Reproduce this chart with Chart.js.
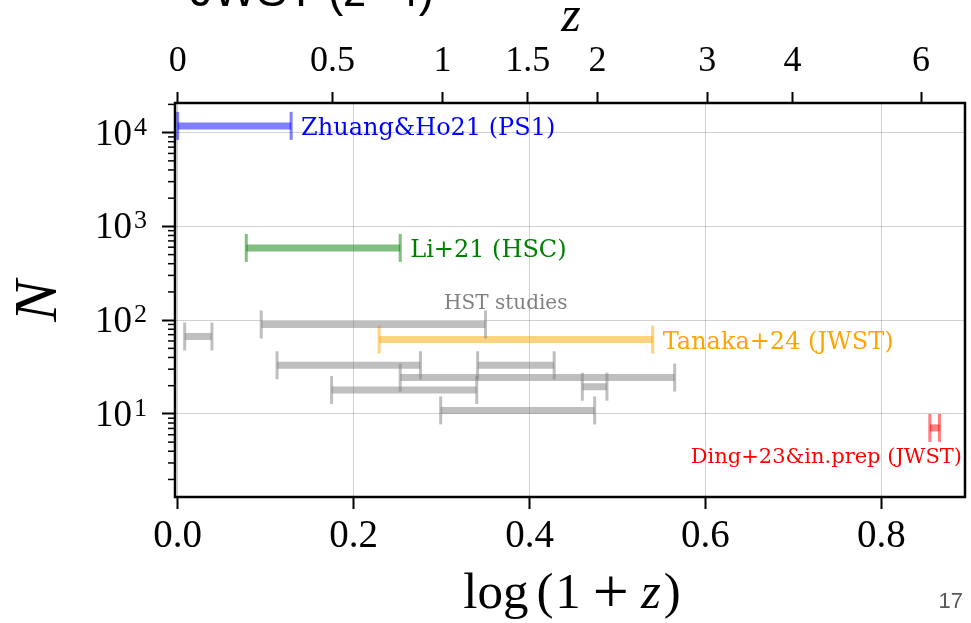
<!DOCTYPE html>
<html>
<head>
<meta charset="utf-8">
<script src="https://cdn.jsdelivr.net/npm/chart.js@4/dist/chart.umd.min.js"></script>
<style>
    html, body { margin: 0; padding: 0; background: #fff; overflow: hidden; }
    #wrap { width: 971px; height: 623px; position: relative; overflow: hidden; }
    #wrap canvas { display: block; }
</style>
</head>
<body>
<div id="wrap"><canvas id="sample-size"></canvas></div>
<script>
// surveys with their own label
const surveyNames = ['Zhuang&Ho21 (PS1)', 'Li+21 (HSC)', 'Tanaka+24 (JWST)', 'Ding+23&in.prep (JWST)'];
const surveyLow   = [0.000, 0.078, 0.229, 0.855];
const surveyHigh  = [0.129, 0.253, 0.540, 0.866];
const surveyN     = [11800, 590, 62, 7.1];

// HST studies (grey)
const hstLow  = [0.008, 0.095, 0.113, 0.341, 0.253, 0.460, 0.175, 0.299];
const hstHigh = [0.039, 0.350, 0.276, 0.428, 0.565, 0.488, 0.340, 0.474];
const hstN    = [67, 90, 33, 33, 24.4, 19.5, 18, 10.9];

// tick labels
const bottomTicks = [0.0, 0.2, 0.4, 0.6, 0.8];
const topTickZ    = [0, 0.5, 1, 1.5, 2, 3, 4, 6];
const yMajorTicks = [10, 100, 1000, 10000];

const colors = {
    'blue'  : 'rgba(0, 0, 255, 0.5)',
    'green' : 'rgba(0, 128, 0, 0.5)',
    'orange': 'rgba(255, 165, 0, 0.5)',
    'red'   : 'rgba(255, 0, 0, 0.5)',
    'grey'  : 'rgba(128, 128, 128, 0.5)'
};
const surveyColors = [colors['blue'], colors['green'], colors['orange'], colors['red']];
const surveyText   = ['#0000ff', '#008000', '#ffa500', '#ff0000'];

const SERIF = "'Liberation Serif', 'DejaVu Serif', serif";
const DVSERIF = "'DejaVu Serif', serif";

function errBar(lo, hi, n, color)
{
    return {
        data: [{x: lo, y: n}, {x: hi, y: n}],
        showLine        : true,
        borderColor     : color,
        borderWidth     : 7,
        pointStyle      : 'line',
        rotation        : 90,
        pointRadius     : 14,
        pointHoverRadius: 14,
        pointBorderWidth: 3,
        pointBorderColor: color,
        clip            : false
    };
}

let datasets = [];
for (let i = 0; i < hstN.length; i++) {
    datasets.push(errBar(hstLow[i], hstHigh[i], hstN[i], colors['grey']));
}
for (let i = 0; i < surveyN.length; i++) {
    datasets.push(errBar(surveyLow[i], surveyHigh[i], surveyN[i], surveyColors[i]));
}

function noPad(scale)
{
    scale.paddingLeft = 0;
    scale.paddingRight = 0;
    scale.paddingTop = 0;
    scale.paddingBottom = 0;
}

const overlay = {
    id: 'overlay',
    afterDraw(chart) {
        const {ctx, chartArea: a, scales} = chart;
        const x = scales.x, y = scales.y;
        ctx.save();

        // minor log ticks
        ctx.strokeStyle = '#000';
        ctx.lineWidth = 1.5;
        for (let e = 0; e < 5; e++) {
            for (let k = 2; k < 10; k++) {
                const v = k * Math.pow(10, e);
                if (v < y.min || v > y.max) continue;
                const py = y.getPixelForValue(v);
                ctx.beginPath();
                ctx.moveTo(a.left - 7, py);
                ctx.lineTo(a.left, py);
                ctx.stroke();
            }
        }

        // frame
        ctx.lineWidth = 2.5;
        ctx.strokeRect(a.left, a.top, a.right - a.left, a.bottom - a.top);

        // y tick labels 10^n
        ctx.fillStyle = '#000';
        ctx.textBaseline = 'alphabetic';
        ctx.textAlign = 'left';
        yMajorTicks.forEach(function (v) {
            const py = y.getPixelForValue(v);
            const exp = String(Math.round(Math.log10(v)));
            ctx.font = '37px ' + SERIF;
            const wBase = ctx.measureText('10').width;
            ctx.font = '26px ' + SERIF;
            const wExp = ctx.measureText(exp).width;
            const x0 = a.left - 28 - wBase - wExp - 2;
            ctx.font = '37px ' + SERIF;
            ctx.fillText('10', x0, py + 12);
            ctx.font = '26px ' + SERIF;
            ctx.fillText(exp, x0 + wBase + 2, py + 2);
        });

        // survey labels
        for (let i = 0; i < surveyNames.length; i++) {
            ctx.fillStyle = surveyText[i];
            const py = y.getPixelForValue(surveyN[i]);
            if (i === 3) {
                ctx.font = '21px ' + DVSERIF;
                ctx.textAlign = 'right';
                ctx.fillText(surveyNames[i], a.right - 3, py + 35);
            } else {
                ctx.font = '24px ' + DVSERIF;
                ctx.textAlign = 'left';
                ctx.fillText(surveyNames[i], x.getPixelForValue(surveyHigh[i]) + 10, py + 9);
            }
        }
        ctx.fillStyle = '#808080';
        ctx.font = '20px ' + DVSERIF;
        ctx.textAlign = 'center';
        ctx.fillText('HST studies', x.getPixelForValue(0.373), y.getPixelForValue(90) - 15);

        // axis titles
        ctx.fillStyle = '#000';
        ctx.font = 'italic 50px ' + SERIF;
        ctx.textAlign = 'center';
        ctx.fillText('z', 571, 31);

        ctx.save();
        ctx.translate(56, 301);
        ctx.rotate(-Math.PI / 2);
        ctx.font = 'italic 62px ' + SERIF;
        ctx.fillText('N', 0, 0);
        ctx.restore();

        // log(1+z), pieces: text, font, gap after, baseline
        const parts = [
            ['log', '51px ', 8, 608],
            ['(', '51px ', 2, 608],
            ['1', '51px ', 12, 608],
            ['+', '64px ', 12, 613],
            ['z', 'italic 51px ', 3, 608],
            [')', '51px ', 0, 608]
        ];
        let total = 0;
        parts.forEach(function (p) {
            ctx.font = p[1] + SERIF;
            total += ctx.measureText(p[0]).width + p[2];
        });
        let cx = 572 - total / 2;
        ctx.textAlign = 'left';
        parts.forEach(function (p) {
            ctx.font = p[1] + SERIF;
            ctx.fillText(p[0], cx, p[3]);
            cx += ctx.measureText(p[0]).width + p[2];
        });

        // slide leftovers
        ctx.fillStyle = '#595959';
        ctx.font = "22px 'Liberation Sans', sans-serif";
        ctx.textAlign = 'right';
        ctx.fillText('17', 963, 608);
        ctx.fillStyle = '#000';
        ctx.font = "46px 'Liberation Sans', sans-serif";
        ctx.textAlign = 'left';
        ctx.fillText('JWST (z~4)', 190, 6);

        ctx.restore();
    }
};

const ctxEl = document.getElementById('sample-size');

new Chart(ctxEl, {
    type: 'scatter',
    data: { datasets: datasets },
    options: {
        responsive          : true,
        maintainAspectRatio : false,
        animation           : false,
        events              : [],
        layout: {
            autoPadding: false,
            padding: { left: 0, right: 6, top: 0, bottom: 0 }
        },
        plugins: {
            legend : { display: false },
            tooltip: { enabled: false }
        },
        scales: {
            x: {
                type: 'linear',
                position: 'bottom',
                min: -0.003,
                max: 0.895,
                afterBuildTicks: function (scale) {
                    scale.ticks = bottomTicks.map(v => ({value: v}));
                },
                afterFit: function (scale) { scale.height = 126; noPad(scale); },
                ticks: {
                    color: '#000',
                    padding: 8,
                    maxRotation: 0,
                    font: { family: SERIF, size: 39, lineHeight: 1 },
                    callback: v => v.toFixed(1)
                },
                grid: {
                    color: 'rgba(0,0,0,0.18)',
                    lineWidth: 1,
                    tickColor: '#000',
                    tickWidth: 2,
                    tickLength: 12
                },
                border: { display: false }
            },
            x2: {
                type: 'linear',
                position: 'top',
                min: -0.003,
                max: 0.895,
                afterBuildTicks: function (scale) {
                    scale.ticks = topTickZ.map(z => ({value: Math.log10(1 + z)}));
                },
                afterFit: function (scale) { scale.height = 103; noPad(scale); },
                ticks: {
                    color: '#000',
                    padding: 12,
                    maxRotation: 0,
                    autoSkip: false,
                    font: { family: SERIF, size: 36, lineHeight: 1 },
                    callback: (v, i) => String(topTickZ[i])
                },
                grid: {
                    drawOnChartArea: false,
                    tickColor: '#000',
                    tickWidth: 2,
                    tickLength: 11
                },
                border: { display: false }
            },
            y: {
                type: 'logarithmic',
                position: 'left',
                min: 1.3,
                max: 20700,
                afterBuildTicks: function (scale) {
                    scale.ticks = yMajorTicks.map(v => ({value: v, major: true}));
                },
                afterFit: function (scale) { scale.width = 175; noPad(scale); },
                ticks: { display: false },
                grid: {
                    color: 'rgba(0,0,0,0.18)',
                    lineWidth: 1,
                    tickColor: '#000',
                    tickWidth: 2,
                    tickLength: 13
                },
                border: { display: false }
            }
        }
    },
    plugins: [overlay]
});
</script>
</body>
</html>
